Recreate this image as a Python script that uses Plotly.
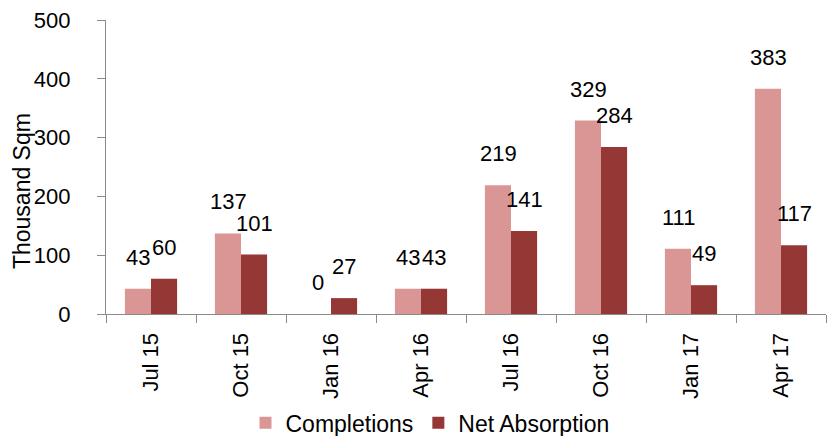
import plotly.graph_objects as go

categories = ["Jul 15", "Oct 15", "Jan 16", "Apr 16", "Jul 16", "Oct 16", "Jan 17", "Apr 17"]
completions = [43, 137, 0, 43, 219, 329, 111, 383]
net_absorption = [60, 101, 27, 43, 141, 284, 49, 117]
y_title = "Thousand Sqm"

c_light = "#D99694"
c_dark = "#953735"
font_family = "Liberation Sans, Arial, sans-serif"
fs = 22
axis_col = "#8a8a8a"

fig = go.Figure()
fig.add_trace(go.Bar(x=categories, y=completions, name="Completions", marker_color=c_light,
                     marker_line_width=0))
fig.add_trace(go.Bar(x=categories, y=net_absorption, name="Net Absorption", marker_color=c_dark,
                     marker_line_width=0))

annotations = []
for cat, v in zip(categories, completions):
    annotations.append(dict(x=cat, y=v, text=str(v), showarrow=False, xshift=-13, yshift=17,
                            yanchor="bottom", font=dict(size=fs, color="#000", family=font_family)))
for cat, v in zip(categories, net_absorption):
    annotations.append(dict(x=cat, y=v, text=str(v), showarrow=False, xshift=13, yshift=17,
                            yanchor="bottom", font=dict(size=fs, color="#000", family=font_family)))
annotations.append(dict(xref="paper", yref="paper", x=-0.1167, y=0.418, text=y_title,
                        textangle=-90, showarrow=False, xanchor="center", yanchor="middle",
                        font=dict(size=23, color="#000", family=font_family)))

fig.update_layout(
    width=827, height=436,
    margin=dict(l=106, r=1, t=20, b=122, autoexpand=False),
    paper_bgcolor="white", plot_bgcolor="white",
    barmode="group", bargap=0.42, bargroupgap=0,
    font=dict(family=font_family, size=fs, color="#000"),
    annotations=annotations,
    showlegend=True,
    legend=dict(orientation="h", x=0.45, xanchor="center", yref="container", y=0.03,
                yanchor="middle", font=dict(size=23), itemwidth=30, traceorder="normal"),
    xaxis=dict(showline=True, linecolor=axis_col, linewidth=1.2, ticks="outside", ticklen=8,
               tickcolor=axis_col, tickson="boundaries", tickangle=-90, showgrid=False,
               tickfont=dict(size=fs), automargin=False, ticklabelstandoff=9),
    yaxis=dict(range=[0, 500], dtick=100, showline=True, linecolor=axis_col, linewidth=1.2,
               ticks="outside", ticklen=8, tickcolor=axis_col, showgrid=False, zeroline=False,
               tickfont=dict(size=fs), automargin=False, ticklabelstandoff=22),
)

fig.write_html("out.html")
